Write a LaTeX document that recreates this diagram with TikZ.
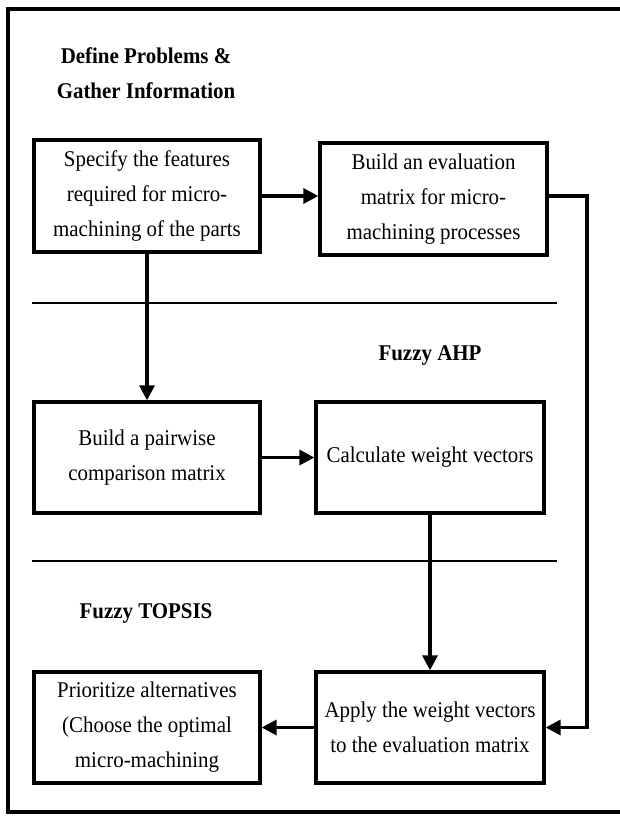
\documentclass[tikz,border=0pt]{standalone}
\usepackage{fontspec}
\setmainfont[FakeStretch = 0.93]{Liberation Serif}
\usepackage{tikz}
\usetikzlibrary{arrows.meta,calc}

\begin{document}
\begin{tikzpicture}[x = 1pt, y = -1pt,
font = \fontsize{22.5}{35}\selectfont]

\tikzset{
	process_box/.style = {
		draw, line width = 3.3pt, minimum width = 226pt, minimum height = 112pt,
		inner sep = 0pt, align = center
	},
	phase_title/.style = {
		font = \fontsize{22.5}{35}\selectfont\bfseries, align = center
	},
	flow_arrow/.style = {
		line width = 3.3pt, -{Triangle[length = 15pt, width = 15pt]}
	},
	phase_line/.style = {
		line width = 1.5pt
	}
}

\useasboundingbox (0,0) rectangle (619,816);
\draw[line width = 4.5pt] (640,9) -- (8,9) -- (8,812) -- (640,812); % Marco

% Etapas
\node[phase_title] (T1) at (146,73.5) {Define Problems \&\\Gather Information};
\node[phase_title] (T2) at (430,355) {Fuzzy AHP};
\node[phase_title] (T3) at (146,613) {Fuzzy TOPSIS};

\draw[phase_line] (32,303) -- (557,303);
\draw[phase_line] (32,561) -- (557,561);

% Cajas
\node[process_box] (SF) at (147,196) {Specify the features\\required for micro-\\machining of the parts};
\node[process_box, minimum width = 227pt] (EM) at (433.5,199) {Build an evaluation\\matrix for micro-\\machining processes};
\node[process_box, minimum height = 111pt] (PC) at (147,457.5) {Build a pairwise\\comparison matrix};
\node[process_box, minimum width = 228pt, minimum height = 111pt] (WV) at (430,457.5) {Calculate weight vectors};
\node[process_box, minimum height = 111pt] (PA) at (147,727.5) {Prioritize alternatives\\(Choose the optimal\\micro-machining};
\node[process_box, minimum width = 228pt, minimum height = 111pt] (AW) at (430,727.5) {Apply the weight vectors\\to the evaluation matrix};

\coordinate (R1) at (587,196);
\coordinate (R2) at (587,727.5);

% Flechas
\draw[flow_arrow] (SF.east) -- (SF.east -| EM.west);
\draw[flow_arrow] (SF.south) -- (PC.north);
\draw[flow_arrow] (PC.east) -- (PC.east -| WV.west);
\draw[flow_arrow] (WV.south) -- (AW.north);
\draw[flow_arrow] (AW.west) -- (PA.east);
\draw[flow_arrow] (EM.east |- R1) -- (R1) -- (R2) -- (AW.east);
\end{tikzpicture}
\end{document}
